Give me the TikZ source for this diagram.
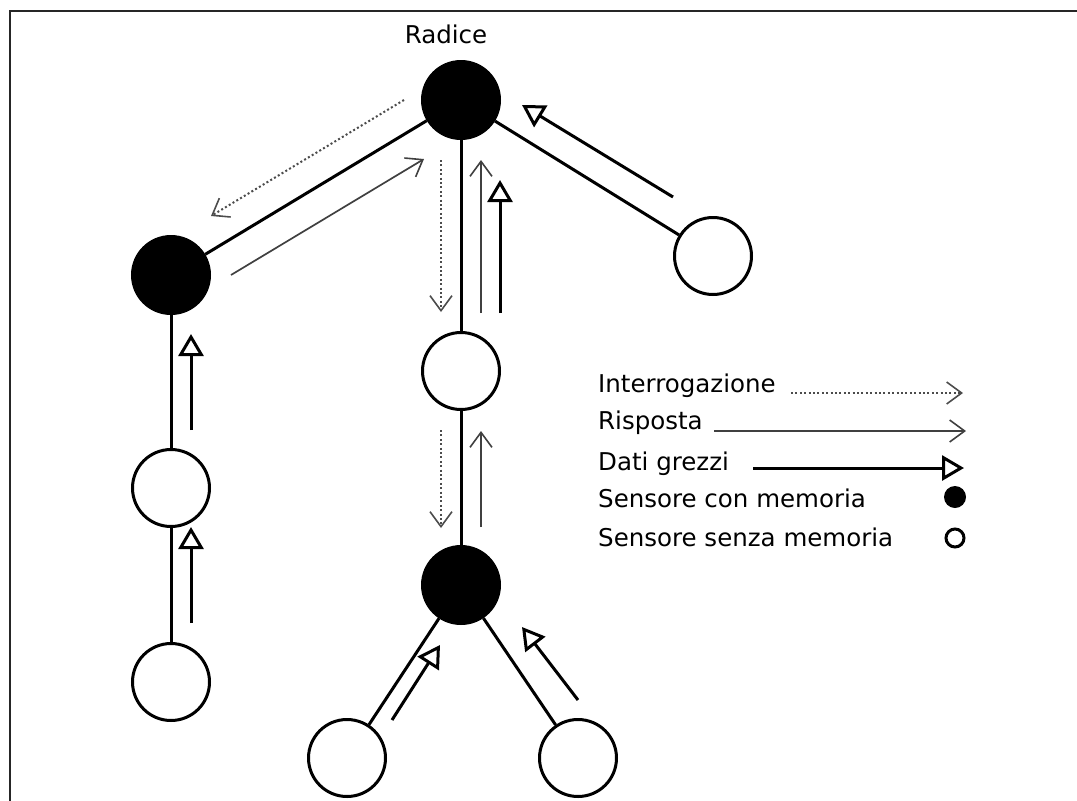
\documentclass[tikz,border=0pt]{standalone}
\usepackage{fontspec}
\setmainfont{DejaVu Sans}
\usetikzlibrary{arrows.meta}
\begin{document}
\begin{tikzpicture}[x=1pt,y=-1pt,
  font=\fontsize{24.5}{29}\selectfont,
  memsensor/.style={circle,draw,fill=black,line width=3pt,minimum size=77pt,inner sep=0pt},
  plainsensor/.style={circle,draw,fill=white,line width=3pt,minimum size=77pt,inner sep=0pt},
  link/.style={line width=3pt},
  query/.style={line width=2pt,black!70,dash pattern=on 2pt off 2.4pt,
    -{Straight Barb[length=15pt,width=22pt,line width=1.6pt]}},
  reply/.style={line width=1.7pt,black!75,
    -{Straight Barb[length=15pt,width=22pt,line width=1.6pt]}},
  rawdata/.style={line width=3pt,-{Triangle[open,length=22pt,width=25pt,line width=3pt]}},
  lbl/.style={anchor=base west,inner sep=0pt}]
\useasboundingbox (0,0) rectangle (1077,801);
% frame
\draw[line width=2pt,black!85] (10,801) -- (10,11) -- (1077,11);

% sensors
\node[memsensor]   (root) at (461,100) {};
\node[memsensor]   (lb)   at (171,275) {};
\node[plainsensor] (rw)   at (713,256) {};
\node[plainsensor] (mw)   at (461,371) {};
\node[memsensor]   (mb)   at (461,585) {};
\node[plainsensor] (lw1)  at (171,488) {};
\node[plainsensor] (lw2)  at (171,682) {};
\node[plainsensor] (bl)   at (347,758) {};
\node[plainsensor] (br)   at (578,758) {};
\node[inner sep=0pt,anchor=base] (rootlbl) at (446,43) {Radice};

% tree links
\draw[link] (root) -- (lb);
\draw[link] (root) -- (rw);
\draw[link] (root) -- (mw);
\draw[link] (mw) -- (mb);
\draw[link] (lb) -- (lw1);
\draw[link] (lw1) -- (lw2);
\draw[link] (mb) -- (bl);
\draw[link] (mb) -- (br);

% message arrows
\coordinate (q1s) at (404,100); \coordinate (q1e) at (211,216);
\coordinate (r1s) at (231,275); \coordinate (r1e) at (424,159);
\coordinate (q2s) at (441,160); \coordinate (q2e) at (441,312);
\coordinate (r2s) at (481,313); \coordinate (r2e) at (481,160);
\coordinate (d2s) at (500,313); \coordinate (d2e) at (500,180);
\coordinate (d1s) at (673,197); \coordinate (d1e) at (522,105);
\coordinate (d3s) at (191,430); \coordinate (d3e) at (191,334);
\coordinate (d4s) at (191,623); \coordinate (d4e) at (191,527);
\coordinate (q3s) at (441,430); \coordinate (q3e) at (441,528);
\coordinate (r3s) at (481,527); \coordinate (r3e) at (481,431);
\coordinate (d5s) at (392,720); \coordinate (d5e) at (440,645);
\coordinate (d6s) at (578,700); \coordinate (d6e) at (522,627);

\draw[query] (q1s) -- (q1e);
\draw[reply] (r1s) -- (r1e);
\draw[query] (q2s) -- (q2e);
\draw[reply] (r2s) -- (r2e);
\draw[rawdata] (d2s) -- (d2e);
\draw[rawdata] (d1s) -- (d1e);
\draw[rawdata] (d3s) -- (d3e);
\draw[rawdata] (d4s) -- (d4e);
\draw[query] (q3s) -- (q3e);
\draw[reply] (r3s) -- (r3e);
\draw[rawdata] (d5s) -- (d5e);
\draw[rawdata] (d6s) -- (d6e);

% legend
\node[lbl] (lq) at (598,392) {Interrogazione};
\node[lbl] (lr) at (598,429) {Risposta};
\node[lbl] (ld) at (598,470) {Dati grezzi};
\node[lbl] (lm) at (598,507) {Sensore con memoria};
\node[lbl] (ln) at (598,546) {Sensore senza memoria};
\coordinate (lqs) at (791,393); \coordinate (lqe) at (963,393);
\coordinate (lrs) at (714,431); \coordinate (lre) at (966,431);
\coordinate (lds) at (753,468); \coordinate (lde) at (964,468);
\draw[query] (lqs) -- (lqe);
\draw[reply] (lrs) -- (lre);
\draw[rawdata] (lds) -- (lde);
\node[circle,fill=black,minimum size=22pt,inner sep=0pt] (keymem) at (955,497) {};
\node[circle,draw,line width=3pt,minimum size=18pt,inner sep=0pt] (keyplain) at (955,538) {};
\end{tikzpicture}
\end{document}
